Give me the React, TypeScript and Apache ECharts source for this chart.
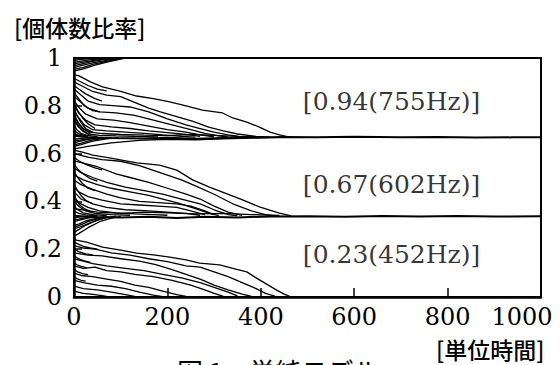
import React, { useEffect, useRef } from "react";
import * as echarts from "echarts";

// x axis: 単位時間 (0..1000), y axis: 個体数比率 (0..1)
const xTicks = [0, 200, 400, 600, 800, 1000];
const yTicks = [0, 0.2, 0.4, 0.6, 0.8, 1];

// annotations [t, ratio, text]
const annotations: [number, number, string][] = [
  [680, 0.82, "[0.94(755Hz)]"],
  [680, 0.469, "[0.67(602Hz)]"],
  [680, 0.176, "[0.23(452Hz)]"],
];

// converged boundaries
const levelUpper = [[0, 0.675], [30, 0.668], [80, 0.665], [150, 0.663], [200, 0.666], [260, 0.662], [320, 0.665], [380, 0.667], [450, 0.669], [520, 0.668], [600, 0.67], [700, 0.668], [780, 0.669], [860, 0.667], [940, 0.668], [1000, 0.668]];
const levelLower = [[0, 0.34], [40, 0.335], [100, 0.333], [160, 0.336], [220, 0.331], [280, 0.336], [350, 0.333], [420, 0.337], [500, 0.338], [580, 0.336], [660, 0.339], [740, 0.337], [820, 0.339], [900, 0.337], [1000, 0.338]];

// top band: cluster rising to 1
const topCluster = [
  [[0, 0.995], [15, 0.998], [35, 1]],
  [[0, 0.99], [20, 0.995], [50, 0.999]],
  [[0, 0.982], [15, 0.987], [40, 0.994], [65, 0.999]],
  [[0, 0.975], [20, 0.983], [50, 0.992], [80, 0.998]],
  [[0, 0.968], [15, 0.974], [35, 0.984], [60, 0.992], [85, 0.998]],
  [[0, 0.96], [15, 0.968], [40, 0.98], [70, 0.99], [95, 0.998]],
  [[0, 0.952], [18, 0.96], [42, 0.974], [72, 0.987], [100, 0.997]],
  [[0, 0.945], [20, 0.955], [45, 0.97], [75, 0.985], [105, 0.997]],
];
// top band: lines descending to 0.67
const topLines = [
  [[0, 0.93], [11, 0.925], [35, 0.9], [61, 0.879], [100, 0.86], [134, 0.841], [170, 0.83], [205, 0.816], [240, 0.8], [275, 0.782], [318, 0.77], [340, 0.749], [370, 0.732], [397, 0.711], [420, 0.69], [440, 0.678], [462, 0.669]],
  [[0, 0.915], [10, 0.905], [30, 0.885], [50, 0.87], [70, 0.862]],
  [[0, 0.9], [15, 0.885], [40, 0.86], [70, 0.845], [100, 0.838], [135, 0.81], [160, 0.79], [185, 0.775], [220, 0.755], [255, 0.735], [290, 0.71], [320, 0.695], [350, 0.682], [390, 0.672], [420, 0.669]],
  [[0, 0.885], [10, 0.87], [25, 0.85], [45, 0.83], [60, 0.82]],
  [[0, 0.87], [15, 0.845], [30, 0.82], [55, 0.805], [90, 0.8], [120, 0.795], [160, 0.775], [200, 0.745], [240, 0.72], [270, 0.705], [300, 0.69], [330, 0.678], [360, 0.67]],
  [[0, 0.855], [10, 0.83], [22, 0.8], [40, 0.78], [55, 0.775]],
  [[0, 0.84], [15, 0.815], [30, 0.79], [55, 0.775], [90, 0.77], [130, 0.76], [170, 0.74], [210, 0.72], [250, 0.7], [280, 0.685], [310, 0.674], [330, 0.669]],
  [[0, 0.82], [12, 0.79], [25, 0.765], [50, 0.745], [85, 0.74], [120, 0.73], [160, 0.715], [200, 0.7], [240, 0.69], [270, 0.678], [300, 0.67]],
  [[0, 0.81], [8, 0.78], [18, 0.75], [30, 0.725], [45, 0.705]],
  [[0, 0.8], [10, 0.77], [25, 0.74], [45, 0.72], [80, 0.712], [120, 0.705], [160, 0.695], [200, 0.688], [240, 0.68], [270, 0.672]],
  [[0, 0.79], [6, 0.76], [15, 0.73], [25, 0.705], [40, 0.69]],
  [[0, 0.78], [10, 0.75], [22, 0.72], [40, 0.7], [70, 0.695], [110, 0.69], [150, 0.685], [190, 0.678], [230, 0.672], [260, 0.669]],
  [[0, 0.77], [5, 0.745], [12, 0.72], [22, 0.7], [35, 0.685]],
  [[0, 0.76], [8, 0.73], [20, 0.705], [35, 0.69], [60, 0.684], [100, 0.68], [150, 0.677], [200, 0.675], [250, 0.68], [300, 0.676], [350, 0.672], [400, 0.67]],
  [[0, 0.75], [5, 0.73], [12, 0.71], [20, 0.695], [32, 0.68]],
  [[0, 0.74], [8, 0.715], [18, 0.695], [30, 0.682], [55, 0.676], [90, 0.674], [130, 0.672], [180, 0.67]],
  [[0, 0.72], [6, 0.7], [15, 0.685], [28, 0.676], [50, 0.671]],
  [[0, 0.7], [6, 0.688], [15, 0.679], [30, 0.672]],
  [[0, 0.685], [8, 0.678], [20, 0.672]],
];

// middle band: cluster rising to 0.67
const midCluster = [
  [[0, 0.66], [15, 0.664], [40, 0.668]],
  [[0, 0.652], [12, 0.656], [30, 0.663], [50, 0.667]],
  [[0, 0.645], [10, 0.65], [30, 0.66], [60, 0.666]],
  [[0, 0.637], [14, 0.643], [35, 0.655], [60, 0.663], [80, 0.667]],
  [[0, 0.63], [15, 0.638], [40, 0.652], [70, 0.662], [95, 0.667]],
  [[0, 0.62], [30, 0.63], [80, 0.645], [140, 0.655], [200, 0.66], [260, 0.658], [320, 0.662], [380, 0.665], [440, 0.668]],
];
// middle band: lines descending to 0.34
const midLines = [
  [[0, 0.615], [20, 0.605], [40, 0.594], [76, 0.582], [134, 0.561], [183, 0.552], [220, 0.531], [254, 0.49], [290, 0.46], [318, 0.439], [361, 0.406], [397, 0.377], [440, 0.351], [465, 0.339]],
  [[0, 0.6], [30, 0.585], [60, 0.575], [100, 0.568], [140, 0.55], [170, 0.53], [200, 0.51], [230, 0.49], [260, 0.465], [300, 0.43], [340, 0.39], [380, 0.36], [410, 0.345], [430, 0.339]],
  [[0, 0.585], [10, 0.57], [25, 0.555], [45, 0.54], [60, 0.532]],
  [[0, 0.57], [20, 0.56], [50, 0.545], [90, 0.515], [120, 0.5], [160, 0.48], [200, 0.455], [240, 0.43], [270, 0.41], [300, 0.38], [330, 0.355], [360, 0.342]],
  [[0, 0.555], [8, 0.535], [20, 0.515], [35, 0.495], [50, 0.485]],
  [[0, 0.54], [15, 0.52], [40, 0.5], [70, 0.48], [110, 0.46], [150, 0.445], [190, 0.43], [230, 0.41], [270, 0.39], [300, 0.365], [330, 0.345], [350, 0.339]],
  [[0, 0.525], [8, 0.5], [18, 0.475], [30, 0.455], [45, 0.445]],
  [[0, 0.51], [20, 0.49], [50, 0.47], [80, 0.455], [120, 0.44], [160, 0.425], [190, 0.41], [220, 0.395], [260, 0.37], [290, 0.35], [310, 0.34]],
  [[0, 0.49], [15, 0.47], [40, 0.45], [70, 0.43], [100, 0.415], [140, 0.4], [180, 0.395], [220, 0.39], [250, 0.38], [280, 0.36], [300, 0.345]],
  [[0, 0.475], [6, 0.45], [15, 0.425], [25, 0.405], [40, 0.39]],
  [[0, 0.46], [10, 0.44], [30, 0.42], [60, 0.405], [100, 0.39], [140, 0.385], [180, 0.38], [220, 0.375], [250, 0.36], [280, 0.345]],
  [[0, 0.44], [15, 0.41], [40, 0.39], [70, 0.375], [110, 0.365], [160, 0.36], [200, 0.355], [240, 0.35], [270, 0.342]],
  [[0, 0.43], [5, 0.405], [12, 0.385], [22, 0.37], [35, 0.358]],
  [[0, 0.42], [10, 0.395], [30, 0.375], [55, 0.36], [90, 0.352], [130, 0.348], [170, 0.345], [200, 0.342]],
  [[0, 0.4], [10, 0.38], [25, 0.36], [45, 0.35], [80, 0.345], [120, 0.342]],
  [[0, 0.38], [8, 0.365], [20, 0.352], [40, 0.345], [70, 0.341]],
  [[0, 0.36], [10, 0.35], [25, 0.344], [50, 0.34]],
  [[0, 0.37], [50, 0.355], [100, 0.35], [150, 0.355], [200, 0.352], [260, 0.348], [320, 0.35], [380, 0.345], [440, 0.341]],
];

// bottom band: cluster rising to 0.34
const lowCluster = [
  [[0, 0.33], [10, 0.334], [30, 0.338]],
  [[0, 0.322], [10, 0.326], [25, 0.332], [45, 0.337]],
  [[0, 0.315], [12, 0.322], [30, 0.33], [50, 0.336]],
  [[0, 0.3], [10, 0.305], [25, 0.318], [45, 0.328], [65, 0.336]],
  [[0, 0.292], [12, 0.3], [30, 0.315], [50, 0.327], [70, 0.336]],
  [[0, 0.285], [15, 0.295], [35, 0.31], [55, 0.325], [75, 0.336]],
  [[0, 0.27], [8, 0.28], [25, 0.3], [45, 0.318], [70, 0.332], [90, 0.338]],
  [[0, 0.255], [10, 0.265], [30, 0.29], [55, 0.315], [80, 0.33], [100, 0.337]],
];
// bottom band: lines descending to 0
const lowLines = [
  [[0, 0.245], [5, 0.238], [27, 0.23], [61, 0.209], [100, 0.196], [134, 0.184], [170, 0.176], [205, 0.167], [240, 0.155], [269, 0.142], [312, 0.134], [340, 0.12], [370, 0.105], [390, 0.08], [408, 0.059], [434, 0.029], [450, 0.012], [462, 0.003]],
  [[0, 0.23], [8, 0.222], [20, 0.212], [35, 0.205], [50, 0.2]],
  [[0, 0.215], [20, 0.205], [45, 0.2], [80, 0.185], [120, 0.175], [160, 0.16], [200, 0.148], [240, 0.13], [270, 0.125], [300, 0.105], [330, 0.085], [360, 0.06], [390, 0.035], [410, 0.015], [430, 0.004]],
  [[0, 0.2], [10, 0.19], [25, 0.18], [40, 0.176]],
  [[0, 0.185], [30, 0.175], [60, 0.172], [100, 0.16], [140, 0.15], [175, 0.135], [210, 0.115], [240, 0.095], [270, 0.075], [300, 0.05], [330, 0.03], [360, 0.012], [380, 0.003]],
  [[0, 0.172], [8, 0.162], [20, 0.152], [35, 0.145]],
  [[0, 0.16], [20, 0.15], [40, 0.14], [70, 0.13], [110, 0.12], [150, 0.11], [190, 0.095], [230, 0.08], [270, 0.06], [300, 0.04], [330, 0.02], [350, 0.005]],
  [[0, 0.145], [6, 0.135], [15, 0.128], [28, 0.122]],
  [[0, 0.13], [20, 0.12], [45, 0.125], [70, 0.11], [100, 0.105], [130, 0.095], [170, 0.085], [210, 0.07], [250, 0.05], [280, 0.03], [300, 0.015], [320, 0.003]],
  [[0, 0.115], [8, 0.105], [18, 0.098], [30, 0.094]],
  [[0, 0.1], [15, 0.09], [40, 0.085], [70, 0.075], [100, 0.065], [130, 0.05], [160, 0.04], [190, 0.025], [220, 0.01], [240, 0.003]],
  [[0, 0.085], [6, 0.077], [15, 0.07], [25, 0.066]],
  [[0, 0.07], [20, 0.06], [50, 0.05], [80, 0.045], [110, 0.035], [140, 0.02], [170, 0.008], [190, 0.002]],
  [[0, 0.045], [20, 0.035], [50, 0.03], [80, 0.02], [110, 0.01], [130, 0.003]],
  [[0, 0.025], [20, 0.015], [45, 0.01], [70, 0.003]],
];

const SERIF = "DejaVu Serif";
const CJK = "Noto Sans CJK JP";

export default function App() {
  const ref = useRef<HTMLDivElement>(null);
  useEffect(() => {
    if (!ref.current) return;
    const chart = echarts.init(ref.current, null, { renderer: "svg" });
    const line = (data: number[][], width = 1.3) => ({
      type: "line",
      data,
      showSymbol: false,
      silent: true,
      lineStyle: { color: "#000", width },
      z: 2,
    });
    const series: any[] = [];
    [...topCluster, ...topLines, ...midCluster, ...midLines, ...lowCluster, ...lowLines].forEach((d) =>
      series.push(line(d))
    );
    series.push(line(levelUpper, 2));
    series.push(line(levelLower, 2));
    series.push({
      type: "scatter",
      silent: true,
      symbolSize: 1,
      itemStyle: { color: "rgba(0,0,0,0)" },
      data: annotations.map(([x, y, name]) => ({ value: [x, y], name })),
      label: {
        show: true,
        position: "inside",
        formatter: "{b}",
        fontFamily: SERIF,
        fontSize: 25,
        color: "#000",
      },
      z: 5,
    });
    chart.setOption({
      animation: false,
      backgroundColor: "#fff",
      grid: {
        left: 74,
        right: 19,
        top: 58,
        bottom: 68,
        show: true,
        borderColor: "#000",
        borderWidth: 2,
        backgroundColor: "transparent",
      },
      xAxis: {
        type: "value",
        min: xTicks[0],
        max: xTicks[xTicks.length - 1],
        interval: 200,
        axisLine: { show: true, lineStyle: { color: "#000", width: 2.5 } },
        axisTick: { show: true, inside: true, length: 9, lineStyle: { color: "#000", width: 1.5 } },
        splitLine: { show: false },
        axisLabel: {
          color: "#000",
          fontFamily: SERIF,
          fontSize: 24,
          margin: 8,
          formatter: (v: number) => (v === 1000 ? "{r|1000}" : String(v)),
          rich: { r: { fontFamily: SERIF, fontSize: 24, color: "#000", padding: [0, 38, 0, 0] } },
        },
      },
      yAxis: {
        type: "value",
        min: yTicks[0],
        max: yTicks[yTicks.length - 1],
        interval: 0.2,
        axisLine: { show: true, lineStyle: { color: "#000", width: 2.5 } },
        axisTick: { show: true, inside: true, length: 8, lineStyle: { color: "#000", width: 1.5 } },
        splitLine: { show: false },
        axisLabel: { color: "#000", fontFamily: SERIF, fontSize: 24, margin: 12 },
      },
      graphic: [
        {
          type: "text",
          left: 14,
          top: 15,
          style: { text: "[個体数比率]", fontFamily: CJK, fontSize: 23, fontWeight: 500, fill: "#000" },
        },
        {
          type: "text",
          left: 436,
          top: 337,
          style: { text: "[単位時間]", fontFamily: CJK, fontSize: 23, fontWeight: 500, fill: "#000" },
        },
        {
          type: "text",
          left: 177,
          top: 357,
          style: { text: "図 1　単純モデル", fontFamily: CJK, fontSize: 26, fill: "#000" },
        },
      ],
      series,
    });
    return () => chart.dispose();
  }, []);
  return (
    <div
      ref={ref}
      style={{ position: "fixed", left: 0, top: 0, width: 560, height: 365, background: "#fff" }}
    />
  );
}
